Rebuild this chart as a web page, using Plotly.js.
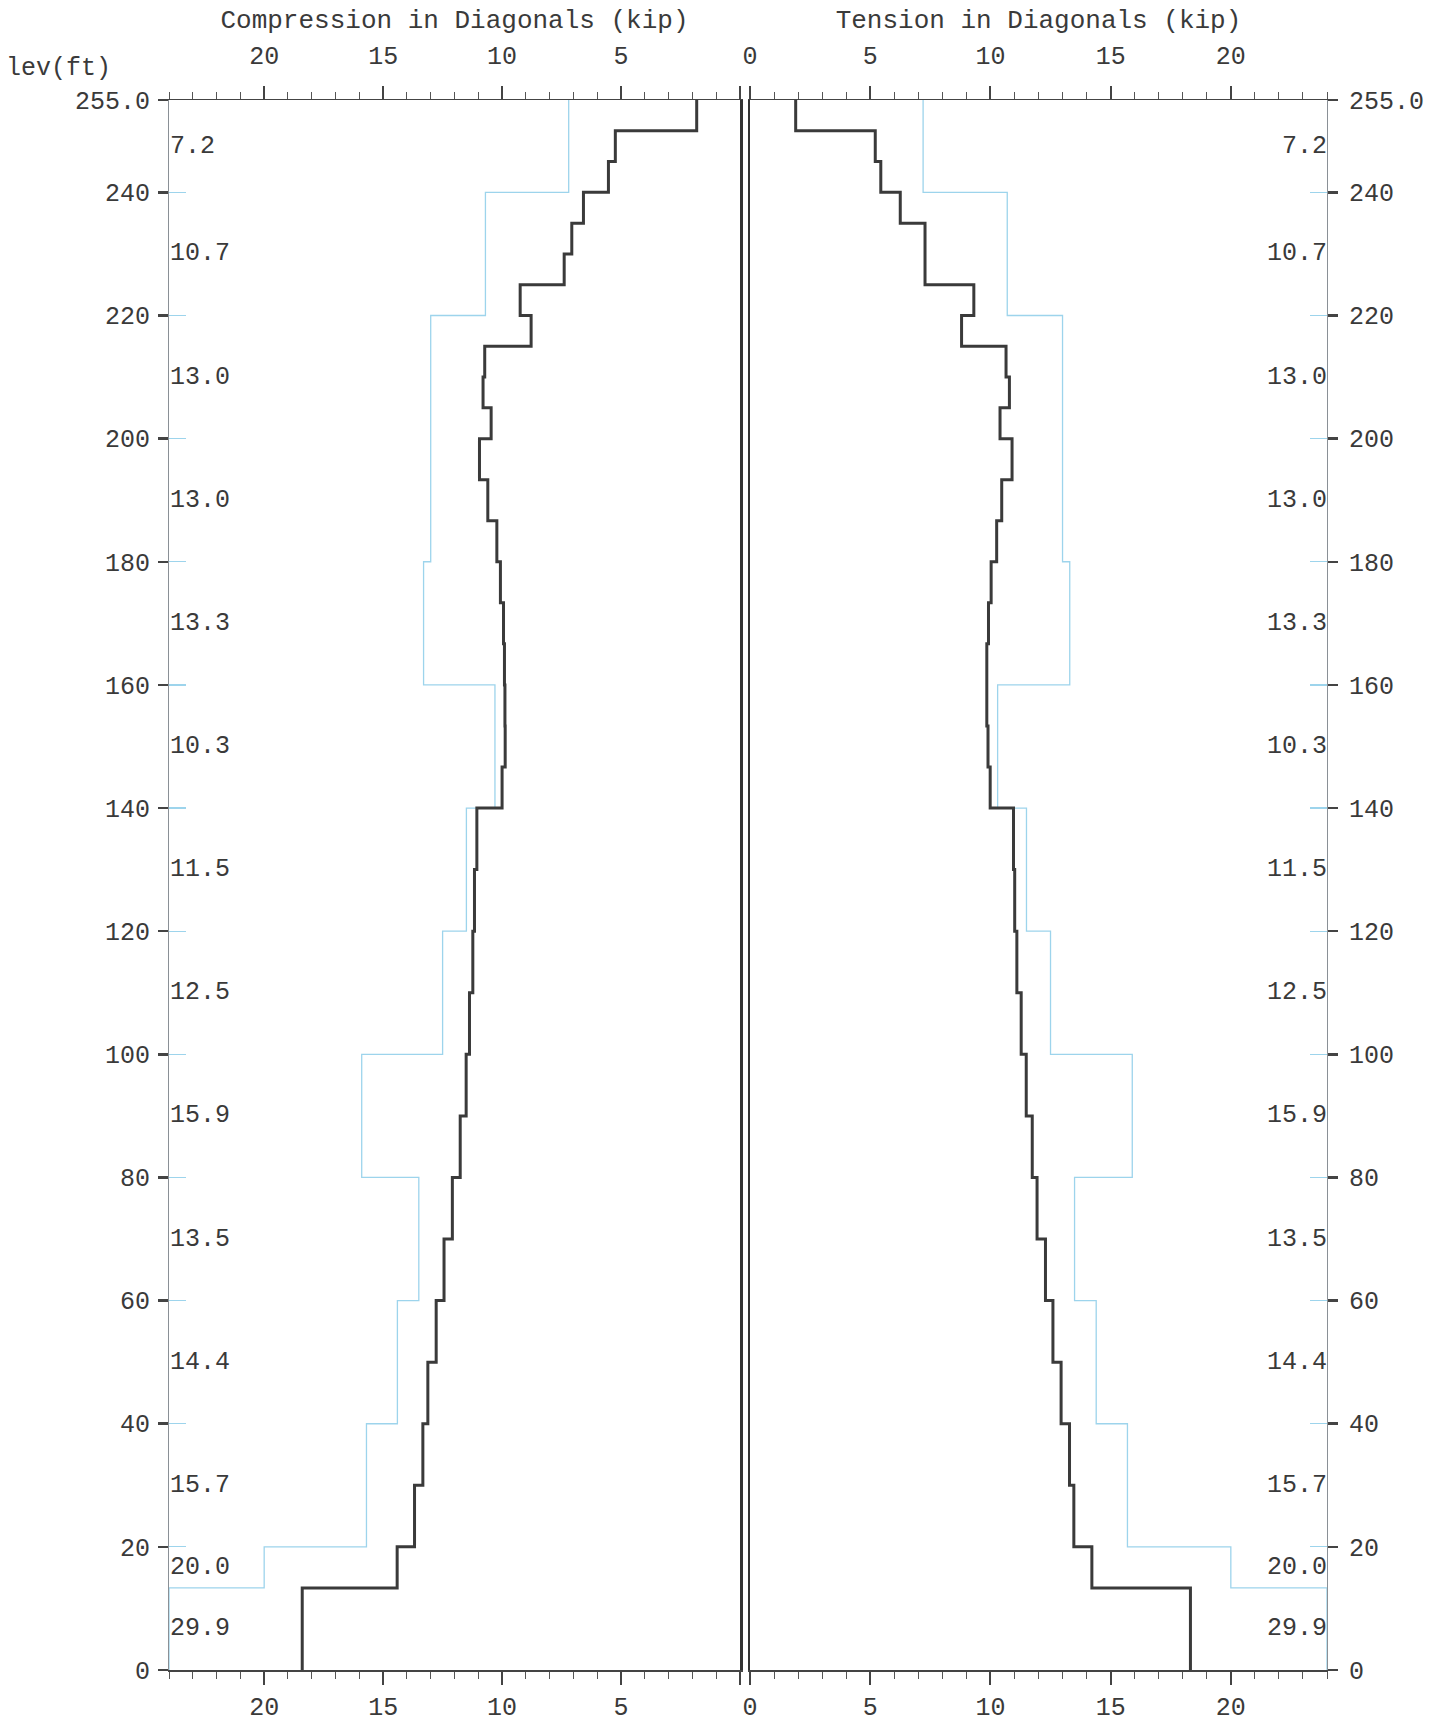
<!DOCTYPE html>
<html>
<head>
<meta charset="utf-8">
<script src="https://cdn.plot.ly/plotly-3.0.1.min.js"></script>
<style>
  html, body { margin: 0; padding: 0; background: #ffffff; }
  #chart { width: 1447px; height: 1726px; }
</style>
</head>
<body>
<div id="chart"></div>
<script>
// ---------------- DATA ----------------
// Top elevation (ft) of each diagonal panel, from the top of the tower down
const panelTops = [255, 250, 245, 240, 235, 230, 225, 220, 215, 210, 205, 200,
  193.33, 186.67, 180, 173.33, 166.67, 160, 153.33, 146.67, 140, 130, 120, 110,
  100, 90, 80, 70, 60, 50, 40, 30, 20, 13.33];
// Compression force in diagonals (kip) for each panel
const compression = [1.82, 5.24, 5.53, 6.58, 7.07, 7.39, 9.24, 8.78, 10.73, 10.80, 10.46, 10.95,
  10.60, 10.22, 10.07, 9.94, 9.90, 9.88, 9.87, 10.00, 11.06, 11.16, 11.23, 11.37,
  11.51, 11.76, 12.09, 12.44, 12.77, 13.12, 13.33, 13.68, 14.41, 18.40];
// Tension force in diagonals (kip) for each panel
const tension = [1.90, 5.21, 5.44, 6.25, 7.28, 7.28, 9.31, 8.80, 10.65, 10.79, 10.40, 10.90,
  10.47, 10.26, 10.03, 9.92, 9.85, 9.85, 9.90, 9.99, 10.96, 11.01, 11.10, 11.28,
  11.49, 11.74, 11.94, 12.29, 12.60, 12.94, 13.29, 13.47, 14.22, 18.32];
// Diagonal capacity (kip) by section: section tops and capacities
const capacityTops = [255, 240, 220, 200, 180, 160, 140, 120, 100, 80, 60, 40, 20, 13.33];
const capacity = [7.2, 10.7, 13.0, 13.0, 13.3, 10.3, 11.5, 12.5, 15.9, 13.5, 14.4, 15.7, 20.0, 29.9];
// Axis ticks
const elevTicks = [0, 20, 40, 60, 80, 100, 120, 140, 160, 180, 200, 220, 240, 255];
const elevTickText = ['0', '20', '40', '60', '80', '100', '120', '140', '160', '180', '200', '220', '240', '255.0'];
const forceTicks = [0, 5, 10, 15, 20];
const forceTickTextLeft = ['', '5', '10', '15', '20'];
const forceTickTextRight = ['0', '5', '10', '15', '20'];
const BASE = 0;          // ground elevation
const TOP = 255;         // top elevation
const XMAX = 24;         // force axis extent (kip)

// ---------------- HELPERS ----------------
function stepPoints(tops, vals, clip) {
  const xs = [], ys = [];
  for (let i = 0; i < tops.length; i++) {
    xs.push(clip ? Math.min(vals[i], XMAX) : vals[i]);
    ys.push(tops[i]);
  }
  const last = vals[vals.length - 1];
  xs.push(clip ? Math.min(last, XMAX) : last);
  ys.push(BASE);
  return { xs, ys };
}

const FONT = 'Liberation Mono, Courier New, monospace';
const TXT = '#3a3a3a';
const DARK = '#3a3a3a';
const BLUE = '#9dd4ec';
const FS = 25;

const cp = stepPoints(panelTops, compression, false);
const tp = stepPoints(panelTops, tension, false);
const cap = stepPoints(capacityTops, capacity, true);

const traces = [
  { x: cap.xs, y: cap.ys, xaxis: 'x', yaxis: 'y', mode: 'lines',
    line: { color: BLUE, width: 1.3, shape: 'vh' }, hoverinfo: 'skip', showlegend: false, cliponaxis: false },
  { x: cap.xs, y: cap.ys, xaxis: 'x2', yaxis: 'y2', mode: 'lines',
    line: { color: BLUE, width: 1.3, shape: 'vh' }, hoverinfo: 'skip', showlegend: false, cliponaxis: false },
  { x: cp.xs, y: cp.ys, xaxis: 'x', yaxis: 'y', mode: 'lines',
    line: { color: DARK, width: 3, shape: 'vh' }, showlegend: false },
  { x: tp.xs, y: tp.ys, xaxis: 'x2', yaxis: 'y2', mode: 'lines',
    line: { color: DARK, width: 3, shape: 'vh' }, showlegend: false },
  // empty traces so the overlay axes are instantiated
  { x: [], y: [], xaxis: 'x3', yaxis: 'y3', mode: 'lines', showlegend: false, hoverinfo: 'skip' },
  { x: [], y: [], xaxis: 'x4', yaxis: 'y4', mode: 'lines', showlegend: false, hoverinfo: 'skip' },
  { x: [], y: [], xaxis: 'x', yaxis: 'y5', mode: 'lines', showlegend: false, hoverinfo: 'skip' },
  { x: [], y: [], xaxis: 'x2', yaxis: 'y6', mode: 'lines', showlegend: false, hoverinfo: 'skip' }
];

// capacity value labels at mid-height of each section
const annotations = [];
for (let i = 0; i < capacityTops.length; i++) {
  const bottom = i + 1 < capacityTops.length ? capacityTops[i + 1] : BASE;
  const mid = (capacityTops[i] + bottom) / 2;
  const label = capacity[i].toFixed(1);
  annotations.push({ xref: 'x', yref: 'y', x: XMAX, y: mid, text: label, showarrow: false,
    xanchor: 'left', yanchor: 'middle', xshift: -1, font: { family: FONT, size: FS, color: TXT } });
  annotations.push({ xref: 'x2', yref: 'y2', x: XMAX, y: mid, text: label, showarrow: false,
    xanchor: 'right', yanchor: 'middle', xshift: 2, font: { family: FONT, size: FS, color: TXT } });
}
annotations.push({ xref: 'paper', yref: 'paper', x: -0.095, y: 1.02, text: 'lev(ft)', showarrow: false,
  xanchor: 'center', yanchor: 'middle', font: { family: FONT, size: FS, color: TXT } });

const tickFont = { family: FONT, size: FS, color: TXT };
const leftDom = [0, 571 / 1158];
const rightDom = [581 / 1158, 1];

function xAxis(opts) {
  return Object.assign({
    showgrid: false, zeroline: false, showline: true, linecolor: '#444', linewidth: 1.5,
    ticks: 'outside', tickmode: 'array', tickvals: forceTicks, ticklen: 13, tickwidth: 2, tickcolor: '#444',
    minor: { ticks: 'outside', dtick: 1, tick0: 0, ticklen: 7, tickwidth: 1, tickcolor: '#555', showgrid: false },
    tickfont: tickFont, fixedrange: true
  }, opts);
}
function yAxis(opts) {
  return Object.assign({
    domain: [0, 1], range: [BASE, TOP], showgrid: false, zeroline: false, fixedrange: true,
    tickmode: 'array', tickvals: elevTicks
  }, opts);
}
const titleFont = { family: FONT, size: 26, color: TXT };

const layout = {
  width: 1447, height: 1726,
  paper_bgcolor: '#ffffff', plot_bgcolor: 'rgba(0,0,0,0)',
  margin: { l: 169, r: 120, t: 100, b: 56, pad: 0 },
  font: { family: FONT, color: TXT },
  showlegend: false,
  xaxis: xAxis({ domain: leftDom, range: [XMAX, 0], anchor: 'y', side: 'bottom',
    ticktext: forceTickTextLeft, ticklabelstandoff: 0 }),
  xaxis3: xAxis({ domain: leftDom, range: [XMAX, 0], anchor: 'y3', side: 'top', overlaying: 'x',
    ticktext: forceTickTextLeft, ticklabelstandoff: 12,
    title: { text: 'Compression in Diagonals (kip)', font: titleFont, standoff: 6 } }),
  xaxis2: xAxis({ domain: rightDom, range: [0, XMAX], anchor: 'y2', side: 'bottom',
    ticktext: forceTickTextRight, ticklabelstandoff: 0 }),
  xaxis4: xAxis({ domain: rightDom, range: [0, XMAX], anchor: 'y4', side: 'top', overlaying: 'x2',
    ticktext: forceTickTextRight, ticklabelstandoff: 12,
    title: { text: 'Tension in Diagonals (kip)', font: titleFont, standoff: 6 } }),
  yaxis: yAxis({ anchor: 'x', side: 'left', showline: true, linecolor: '#8a9096', linewidth: 1,
    ticks: 'outside', ticktext: elevTickText, ticklen: 10, tickwidth: 2.5, tickcolor: '#444',
    tickfont: tickFont, ticklabelstandoff: 3 }),
  yaxis2: yAxis({ anchor: 'x2', side: 'right', showline: true, linecolor: '#8a9096', linewidth: 1,
    ticks: 'outside', ticktext: elevTickText, ticklen: 10, tickwidth: 2.5, tickcolor: '#444',
    tickfont: tickFont, ticklabelstandoff: 6 }),
  yaxis3: yAxis({ anchor: 'x', side: 'left', overlaying: 'y', showline: false, ticks: 'inside',
    ticklen: 17, tickwidth: 1.2, tickcolor: BLUE, showticklabels: false }),
  yaxis4: yAxis({ anchor: 'x2', side: 'right', overlaying: 'y2', showline: false, ticks: 'inside',
    ticklen: 17, tickwidth: 1.2, tickcolor: BLUE, showticklabels: false }),
  yaxis5: yAxis({ anchor: 'x', side: 'right', overlaying: 'y', showline: true, linecolor: '#333',
    linewidth: 2.5, ticks: '', showticklabels: false }),
  yaxis6: yAxis({ anchor: 'x2', side: 'left', overlaying: 'y2', showline: true, linecolor: '#333',
    linewidth: 2.5, ticks: '', showticklabels: false }),
  annotations: annotations
};

Plotly.newPlot('chart', traces, layout, { staticPlot: true, displayModeBar: false });
</script>
</body>
</html>
